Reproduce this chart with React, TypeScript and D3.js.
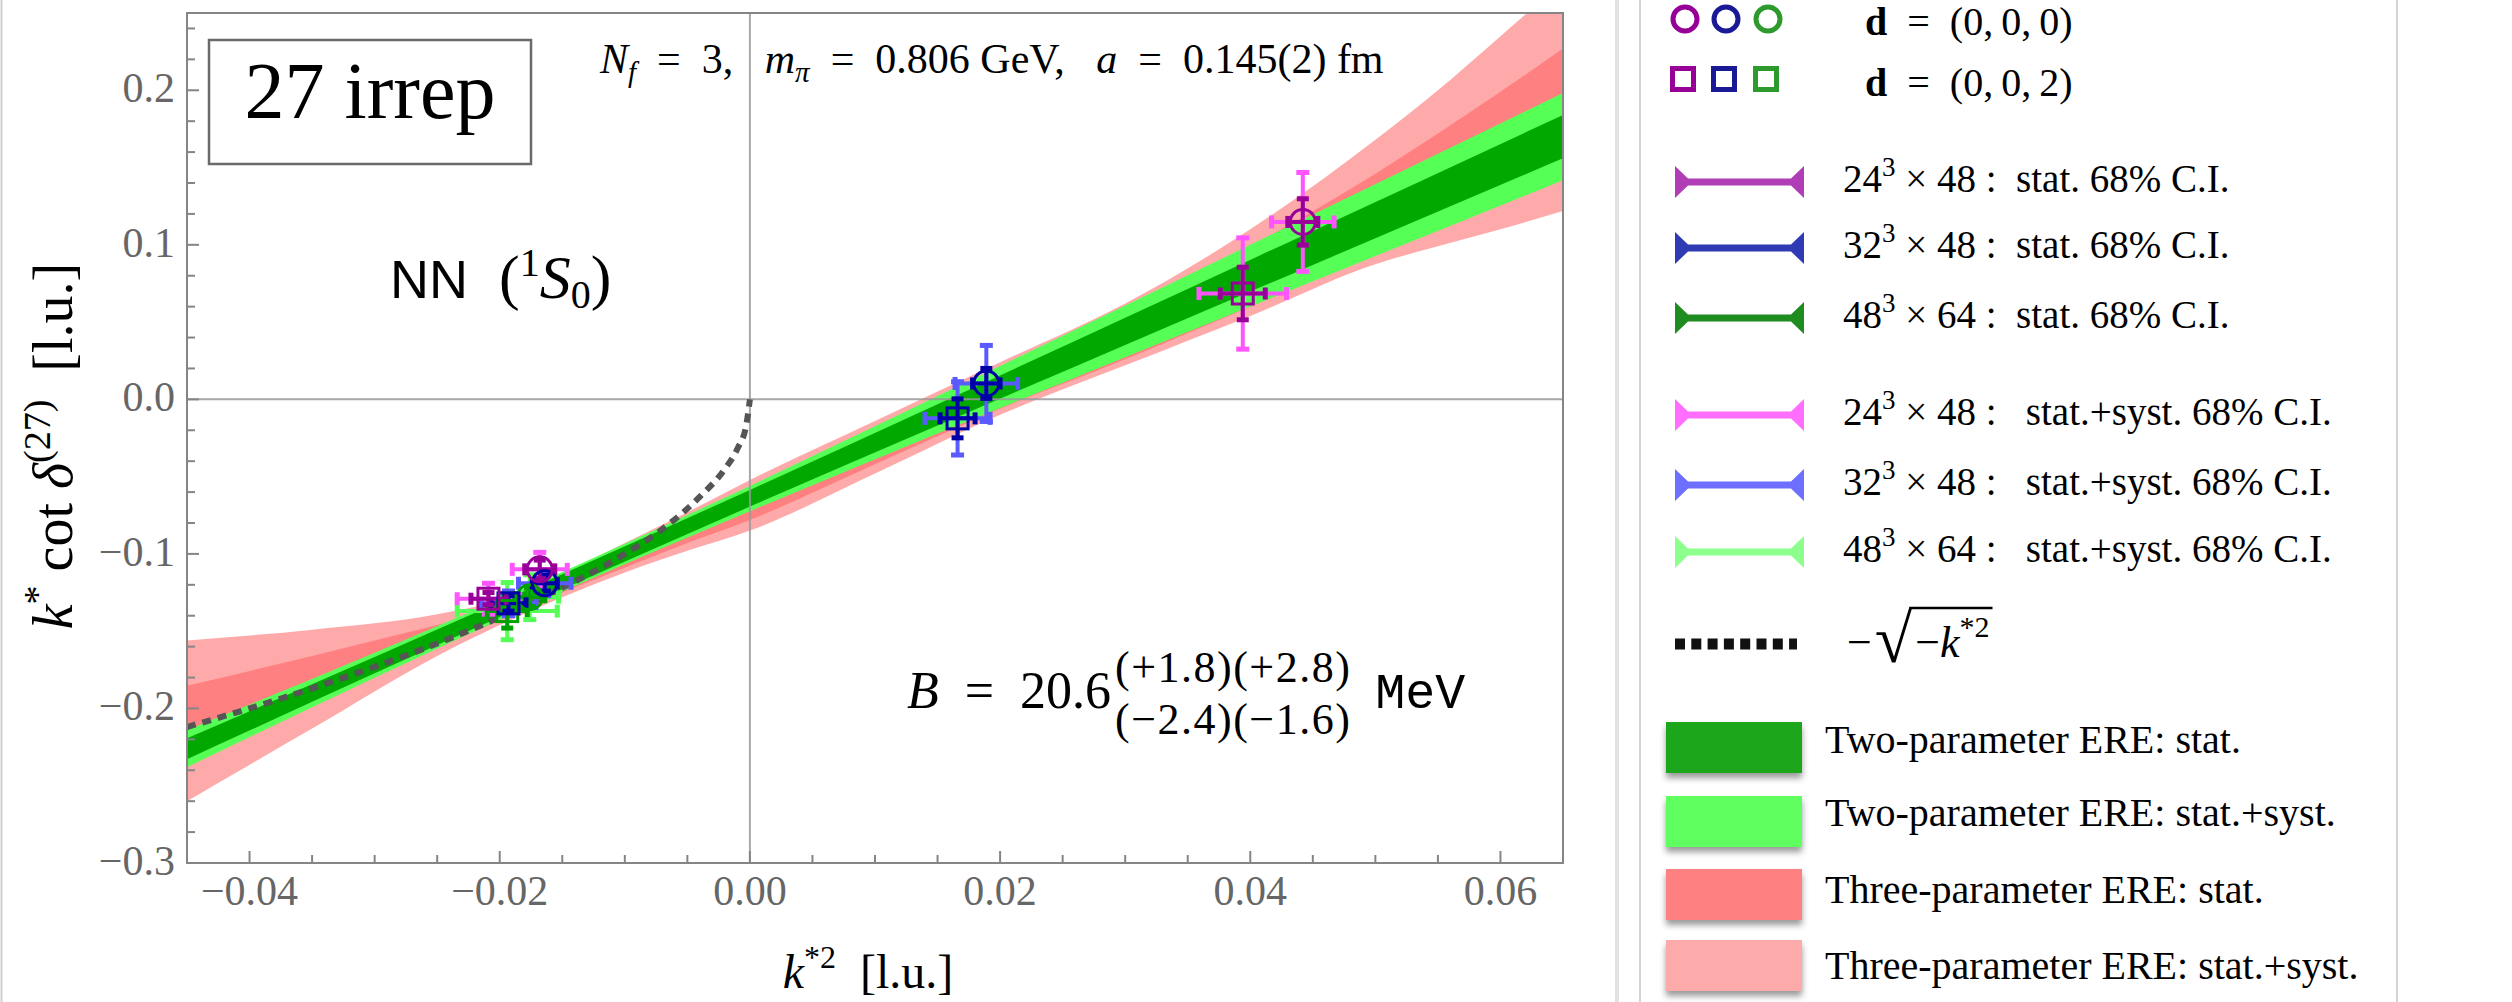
import React, { useEffect, useRef } from 'react';
import * as d3 from 'd3';

// axis ticks
const xMajor = [-0.04, -0.02, 0, 0.02, 0.04, 0.06];
const xMajorLabels = ['−0.04', '−0.02', '0.00', '0.02', '0.04', '0.06'];
const yMajor = [-0.3, -0.2, -0.1, 0, 0.1, 0.2];
const yMajorLabels = ['−0.3', '−0.2', '−0.1', '0.0', '0.1', '0.2'];

// two-parameter ERE bands
const twoX = [-0.045, -0.03, -0.015, 0, 0.015, 0.03, 0.045, 0.065];
const twoStatLo = [-0.2328, -0.1773, -0.1228, -0.0694, -0.0169, 0.0352, 0.087, 0.156];
const twoStatHi = [-0.2193, -0.1667, -0.1132, -0.0586, -0.0031, 0.0528, 0.109, 0.184];
const twoSystLo = [-0.238, -0.1801, -0.1243, -0.0724, -0.0221, 0.0273, 0.0764, 0.1418];
const twoSystHi = [-0.214, -0.1639, -0.1117, -0.056, 0.0021, 0.0607, 0.1196, 0.1982];

// three-parameter ERE bands
const threeX = [-0.045, -0.035, -0.025, -0.02, -0.015, -0.01, -0.005, 0, 0.01, 0.02, 0.03, 0.04, 0.05, 0.055, 0.06, 0.065];
const threeStatLo = [-0.232, -0.197, -0.16, -0.143, -0.125, -0.109, -0.093, -0.078, -0.042, -0.006, 0.026, 0.06, 0.095, 0.112, 0.13, 0.148];
const threeStatHi = [-0.1853, -0.166, -0.146, -0.136, -0.121, -0.101, -0.08, -0.059, -0.019, 0.019, 0.057, 0.099, 0.146, 0.172, 0.199, 0.227];
const threeSystLo = [-0.26, -0.213, -0.166, -0.146, -0.128, -0.112, -0.098, -0.0849, -0.048, -0.01, 0.022, 0.054, 0.0875, 0.099, 0.11, 0.1219];
const threeSystHi = [-0.156, -0.149, -0.139, -0.13, -0.113, -0.093, -0.073, -0.0522, -0.014, 0.024, 0.062, 0.11, 0.168, 0.2, 0.235, 0.27];

// -sqrt(-k*^2) curve
const sqrtX = [-0.045, -0.04, -0.035, -0.03, -0.025, -0.02, -0.015, -0.01, -0.007, -0.004, -0.002, -0.001, -0.0003, 0];
const sqrtY = [-0.212, -0.2, -0.187, -0.173, -0.158, -0.141, -0.122, -0.1, -0.084, -0.063, -0.045, -0.032, -0.017, 0];

// lattice points
const ptVol = ['24', '24', '32', '32', '24', '32', '48', '24', '32', '48'];
const ptShape = ['circle', 'square', 'circle', 'square', 'circle', 'circle', 'circle', 'square', 'square', 'square'];
const ptX = [0.0442, 0.0394, 0.0189, 0.0166, -0.0168, -0.0164, -0.0176, -0.0209, -0.0193, -0.0194];
const ptY = [0.1148, 0.0685, 0.0103, -0.0123, -0.11, -0.119, -0.128, -0.129, -0.132, -0.137];
const ptXStat = [0.0012, 0.0018, 0.0011, 0.0014, 0.0012, 0.001, 0.0012, 0.0014, 0.0014, 0.0016];
const ptXSyst = [0.0025, 0.0035, 0.0025, 0.0026, 0.0022, 0.0021, 0.0023, 0.0025, 0.0022, 0.004];
const ptYStat = [0.015, 0.017, 0.0097, 0.0126, 0.006, 0.005, 0.006, 0.004, 0.005, 0.011];
const ptYSyst = [0.032, 0.036, 0.0246, 0.0237, 0.011, 0.008, 0.0145, 0.01, 0.008, 0.0185];

const statColor = { '24': '#990099', '32': '#0000a6', '48': '#00a000' };
const systColor = { '24': '#ff55ff', '32': '#5a5aff', '48': '#55ff55' };

// legend content
const markerColors = ['#960096', '#1a1a96', '#2e9a2e'];
const legendVol = ['24', '32', '48', '24', '32', '48'];
const legendTime = ['48', '48', '64', '48', '48', '64'];
const legendKind = ['stat. 68% C.I.', 'stat. 68% C.I.', 'stat. 68% C.I.', ' stat.+syst. 68% C.I.', ' stat.+syst. 68% C.I.', ' stat.+syst. 68% C.I.'];
const legendErrColor = ['#b03cb6', '#2f3ab3', '#1e8c1e', '#ff6eff', '#6e6eff', '#8cff8c'];
const swatchLabels = ['Two-parameter ERE: stat.', 'Two-parameter ERE: stat.+syst.', 'Three-parameter ERE: stat.', 'Three-parameter ERE: stat.+syst.'];
const swatchColors = ['#1aa61a', '#5fff5f', '#ff8080', '#fcaaaa'];

const serif = '"Liberation Serif", "Times New Roman", serif';
const sans = '"Liberation Sans", Arial, sans-serif';
const mono = '"Liberation Mono", "DejaVu Sans Mono", monospace';
const EN = '\u2002';

// parts: {t, i, b, dy (baseline offset, negative = up), fs, ff}
function rich(sel, parts) {
  let shift = 0;
  parts.forEach(p => {
    const target = p.dy || 0;
    const ts = sel.append('tspan').text(p.t);
    if (target !== shift) { ts.attr('dy', target - shift); shift = target; }
    if (p.i) ts.attr('font-style', 'italic');
    if (p.b) ts.attr('font-weight', 'bold');
    if (p.fs) ts.attr('font-size', p.fs);
    if (p.ff) ts.attr('font-family', p.ff);
  });
  return sel;
}

function txt(g, x, y, fs) {
  return g.append('text')
    .attr('x', x).attr('y', y)
    .attr('font-family', serif)
    .attr('font-size', fs)
    .attr('fill', '#000')
    .style('white-space', 'pre');
}

const App = () => {
  const svgRef = useRef(null);

  useEffect(() => {
    const svg = d3.select(svgRef.current);
    svg.selectAll('*').remove();

    const left = 187, right = 1563, top = 13, bottom = 863;
    const x = d3.scaleLinear().domain([-0.045, 0.065]).range([left, right]);
    const y = d3.scaleLinear().domain([-0.3, 0.25]).range([bottom, top]);

    const defs = svg.append('defs');
    defs.append('clipPath').attr('id', 'plotClip')
      .append('rect').attr('x', left).attr('y', top).attr('width', right - left).attr('height', bottom - top);
    const shadow = defs.append('filter').attr('id', 'swShadow')
      .attr('x', '-10%').attr('y', '-10%').attr('width', '120%').attr('height', '140%');
    shadow.append('feDropShadow').attr('dx', 0).attr('dy', 5).attr('stdDeviation', 3)
      .attr('flood-color', '#000').attr('flood-opacity', 0.4);

    svg.append('rect').attr('width', 2512).attr('height', 1002).attr('fill', '#fff');
    svg.append('line').attr('x1', 1.5).attr('x2', 1.5).attr('y1', 0).attr('y2', 1002)
      .attr('stroke', '#d0d0d0').attr('stroke-width', 2);

    // bands
    const plot = svg.append('g').attr('clip-path', 'url(#plotClip)');
    const area = d3.area()
      .x(d => x(d[0])).y0(d => y(d[1])).y1(d => y(d[2]))
      .curve(d3.curveMonotoneX);
    const bands = [
      [threeX, threeSystLo, threeSystHi, '#ffaaaa'],
      [threeX, threeStatLo, threeStatHi, '#ff8080'],
      [twoX, twoSystLo, twoSystHi, '#55ff55'],
      [twoX, twoStatLo, twoStatHi, '#00a800'],
    ];
    bands.forEach(([xs, lo, hi, col]) => {
      plot.append('path')
        .datum(xs.map((v, i) => [v, lo[i], hi[i]]))
        .attr('fill', col)
        .attr('d', area);
    });

    // zero lines
    plot.append('line').attr('x1', x(0)).attr('x2', x(0)).attr('y1', top).attr('y2', bottom)
      .attr('stroke', '#999').attr('stroke-width', 2).attr('opacity', 0.85);
    plot.append('line').attr('x1', left).attr('x2', right).attr('y1', y(0)).attr('y2', y(0))
      .attr('stroke', '#999').attr('stroke-width', 2).attr('opacity', 0.85);

    // dashed -sqrt(-k^2)
    const line = d3.line().x(d => x(d[0])).y(d => y(d[1])).curve(d3.curveMonotoneX);
    plot.append('path')
      .datum(sqrtX.map((v, i) => [v, sqrtY[i]]))
      .attr('fill', 'none')
      .attr('stroke', '#555')
      .attr('stroke-width', 6)
      .attr('stroke-dasharray', '9,7')
      .attr('d', line);

    // data points
    const pts = ptX.map((v, i) => ({
      vol: ptVol[i], shape: ptShape[i], x: v, y: ptY[i],
      xs: ptXStat[i], xss: ptXSyst[i], ys: ptYStat[i], yss: ptYSyst[i],
    }));
    const drawOrder = ['48', '32', '24'];
    const sorted = drawOrder.flatMap(v => pts.filter(p => p.vol === v));

    const bars = (g, p, dx, dy, col, capL, capT, lw) => {
      const cx = x(p.x), cy = y(p.y);
      const x0 = x(p.x - dx), x1 = x(p.x + dx);
      const y0 = y(p.y - dy), y1 = y(p.y + dy);
      g.append('line').attr('x1', cx).attr('x2', cx).attr('y1', y0).attr('y2', y1)
        .attr('stroke', col).attr('stroke-width', lw);
      g.append('line').attr('x1', x0).attr('x2', x1).attr('y1', cy).attr('y2', cy)
        .attr('stroke', col).attr('stroke-width', lw);
      [y0, y1].forEach(yy => g.append('rect')
        .attr('x', cx - capL / 2).attr('y', yy - capT / 2).attr('width', capL).attr('height', capT)
        .attr('fill', col));
      [x0, x1].forEach(xx => g.append('rect')
        .attr('x', xx - capT / 2).attr('y', cy - capL / 2).attr('width', capT).attr('height', capL)
        .attr('fill', col));
    };

    const pg = plot.append('g');
    sorted.forEach(p => bars(pg, p, p.xss, p.yss, systColor[p.vol], 13, 5, 4));
    sorted.forEach(p => bars(pg, p, p.xs, p.ys, statColor[p.vol], 12, 5, 4));
    sorted.forEach(p => {
      const cx = x(p.x), cy = y(p.y);
      if (p.shape === 'circle') {
        pg.append('circle').attr('cx', cx).attr('cy', cy).attr('r', 12.5)
          .attr('fill', 'none').attr('stroke', statColor[p.vol]).attr('stroke-width', 3);
      } else {
        pg.append('rect').attr('x', cx - 10.5).attr('y', cy - 10.5).attr('width', 21).attr('height', 21)
          .attr('fill', 'none').attr('stroke', statColor[p.vol]).attr('stroke-width', 3);
      }
    });

    // frame and ticks
    const axisCol = '#858585';
    svg.append('rect').attr('x', left).attr('y', top).attr('width', right - left).attr('height', bottom - top)
      .attr('fill', 'none').attr('stroke', axisCol).attr('stroke-width', 2);

    const isMajor = (v, step) => Math.abs(v / step - Math.round(v / step)) < 1e-6;
    d3.range(-0.045, 0.0651, 0.005).forEach(v => {
      const len = isMajor(v, 0.02) ? 12 : 8;
      svg.append('line').attr('x1', x(v)).attr('x2', x(v)).attr('y1', bottom).attr('y2', bottom - len)
        .attr('stroke', axisCol).attr('stroke-width', 2);
    });
    d3.range(-0.3, 0.2401, 0.02).forEach(v => {
      const len = isMajor(v, 0.1) ? 12 : 8;
      svg.append('line').attr('x1', left).attr('x2', left + len).attr('y1', y(v)).attr('y2', y(v))
        .attr('stroke', axisCol).attr('stroke-width', 2);
    });

    const tickCol = '#666';
    xMajor.forEach((v, i) => {
      txt(svg, x(v), 905, 42).attr('text-anchor', 'middle').attr('fill', tickCol).text(xMajorLabels[i]);
    });
    yMajor.forEach((v, i) => {
      txt(svg, 175, y(v) + 12, 42).attr('text-anchor', 'end').attr('fill', tickCol).text(yMajorLabels[i]);
    });

    // axis titles
    rich(txt(svg, 868, 988, 48).attr('text-anchor', 'middle'), [
      { t: 'k', i: true }, { t: '*2', dy: -20, fs: 32 }, { t: '  [l.u.]' },
    ]);
    rich(txt(svg, 0, 0, 56).attr('text-anchor', 'middle').attr('transform', 'translate(72,446) rotate(-90)'), [
      { t: 'k', i: true }, { t: '*', dy: -22, fs: 38 }, { t: ' cot ' }, { t: 'δ', i: true },
      { t: '(27)', dy: -22, fs: 38 }, { t: '  [l.u.]' },
    ]);

    // in-plot annotations
    svg.append('rect').attr('x', 209).attr('y', 40).attr('width', 322).attr('height', 124)
      .attr('fill', '#fff').attr('stroke', '#6a6a6a').attr('stroke-width', 2.5);
    txt(svg, 370, 118, 80).attr('text-anchor', 'middle').text('27 irrep');

    rich(txt(svg, 600, 73, 42), [
      { t: 'N', i: true }, { t: 'f', i: true, dy: 9, fs: 29 }, { t: `${EN}=${EN}3,   ` },
      { t: 'm', i: true }, { t: 'π', i: true, dy: 9, fs: 29 }, { t: `${EN}=${EN}0.806 GeV,   ` },
      { t: 'a', i: true }, { t: `${EN}=${EN}0.145(2) fm` },
    ]);

    rich(txt(svg, 390, 298, 62), [
      { t: 'NN', ff: sans, fs: 54 }, { t: '  (' }, { t: '1', dy: -22, fs: 40 }, { t: 'S', i: true },
      { t: '0', dy: 10, fs: 40 }, { t: ')' },
    ]);

    const bText = rich(txt(svg, 907, 708, 52), [{ t: 'B', i: true }, { t: `${EN}=${EN}20.6` }]);
    const bEnd = 907 + bText.node().getComputedTextLength() + 4;
    const supT = txt(svg, bEnd, 682, 44).style('letter-spacing', '1.5px').text('(+1.8)(+2.8)');
    const subT = txt(svg, bEnd, 734, 44).style('letter-spacing', '1.5px').text('(−2.4)(−1.6)');
    const sEnd = bEnd + Math.max(supT.node().getComputedTextLength(), subT.node().getComputedTextLength());
    txt(svg, sEnd + 24, 708, 50).attr('font-family', mono).text('MeV');

    // legend panel
    const lg = svg.append('g');
    lg.append('line').attr('x1', 1617).attr('x2', 1617).attr('y1', 0).attr('y2', 1002)
      .attr('stroke', '#e2e2e2').attr('stroke-width', 4);
    lg.append('line').attr('x1', 1640).attr('x2', 1640).attr('y1', 0).attr('y2', 1002)
      .attr('stroke', '#d4d4d4').attr('stroke-width', 2);
    lg.append('line').attr('x1', 2397).attr('x2', 2397).attr('y1', 0).attr('y2', 1002)
      .attr('stroke', '#d4d4d4').attr('stroke-width', 2);

    const mX = [1685, 1726, 1768];
    markerColors.forEach((c, i) => {
      lg.append('circle').attr('cx', mX[i]).attr('cy', 19).attr('r', 12)
        .attr('fill', 'none').attr('stroke', c).attr('stroke-width', 5);
      lg.append('rect').attr('x', mX[i] - 2 - 10.5).attr('y', 79 - 10.5).attr('width', 21).attr('height', 21)
        .attr('fill', 'none').attr('stroke', c).attr('stroke-width', 5);
    });
    rich(txt(lg, 1865, 35, 40), [{ t: 'd', b: true }, { t: `${EN}=${EN}(0,\u20090,\u20090)` }]);
    rich(txt(lg, 1865, 96, 40), [{ t: 'd', b: true }, { t: `${EN}=${EN}(0,\u20090,\u20092)` }]);

    const errRows = [182, 248, 318, 415, 485, 552];
    legendVol.forEach((v, i) => {
      const yc = errRows[i], x0 = 1675, x1 = 1804, h = 16, t = 3.5, f = 13;
      lg.append('polygon')
        .attr('points', [
          [x0, yc - h], [x0 + f, yc - t], [x1 - f, yc - t], [x1, yc - h],
          [x1, yc + h], [x1 - f, yc + t], [x0 + f, yc + t], [x0, yc + h],
        ].map(p => p.join(',')).join(' '))
        .attr('fill', legendErrColor[i]);
      rich(txt(lg, 1843, yc + 10, 39), [
        { t: v }, { t: '3', dy: -16, fs: 27 }, { t: ` × ${legendTime[i]} :  ${legendKind[i]}` },
      ]);
    });

    // dashed legend entry
    lg.append('line').attr('x1', 1675).attr('x2', 1797).attr('y1', 644).attr('y2', 644)
      .attr('stroke', '#111').attr('stroke-width', 11).attr('stroke-dasharray', '10,6.3');
    const minus = txt(lg, 1847, 657, 44).text('−');
    const mEnd = 1847 + minus.node().getComputedTextLength() + 3;
    const rad = txt(lg, mEnd, 662, 68).text('√');
    const rEnd = mEnd + rad.node().getComputedTextLength();
    const under = rich(txt(lg, rEnd + 3, 657, 44), [
      { t: '−' }, { t: 'k', i: true }, { t: '*2', dy: -20, fs: 30 },
    ]);
    const uEnd = rEnd + 3 + under.node().getComputedTextLength() + 3;
    lg.append('line').attr('x1', rEnd - 3).attr('x2', uEnd).attr('y1', 608).attr('y2', 608)
      .attr('stroke', '#000').attr('stroke-width', 2.5);

    const swTops = [722, 796, 869, 940];
    const swBase = [753, 826, 903, 979];
    swatchLabels.forEach((s, i) => {
      lg.append('rect').attr('x', 1666).attr('y', swTops[i]).attr('width', 136).attr('height', 51)
        .attr('fill', swatchColors[i]).attr('filter', 'url(#swShadow)');
      txt(lg, 1825, swBase[i], 40).text(s);
    });
  }, []);

  return (
    <svg
      ref={svgRef}
      width={2512}
      height={1002}
      style={{ position: 'absolute', left: 0, top: 0, display: 'block' }}
    />
  );
};

export default App;
